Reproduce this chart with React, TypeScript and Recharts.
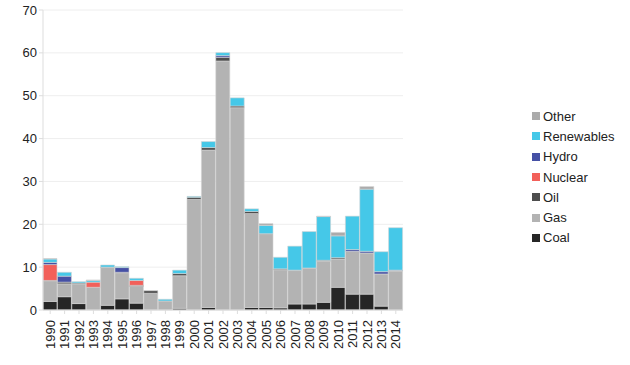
import { BarChart, Bar, XAxis, YAxis, CartesianGrid, Legend } from 'recharts';

const years = [
  '1990', '1991', '1992', '1993', '1994', '1995', '1996', '1997', '1998', '1999',
  '2000', '2001', '2002', '2003', '2004', '2005', '2006', '2007', '2008', '2009',
  '2010', '2011', '2012', '2013', '2014',
];

const coal = [2.0, 3.1, 1.5, 0, 1.1, 2.6, 1.6, 0, 0, 0.4, 0, 0.6, 0, 0, 0.6, 0.6, 0.5, 1.4, 1.4, 1.8, 5.3, 3.7, 3.7, 0.9, 0];
const gas = [4.7, 3.0, 4.6, 5.3, 8.8, 6.1, 3.9, 3.9, 2.1, 7.6, 25.8, 36.7, 58.1, 47.2, 21.9, 17.0, 8.9, 7.8, 8.3, 9.6, 6.6, 10.0, 9.6, 7.5, 9.1];
const oil = [0.2, 0.4, 0.2, 0, 0.1, 0.1, 0.25, 0.6, 0, 0.5, 0.5, 0.6, 0.85, 0.4, 0.5, 0.2, 0.2, 0.1, 0.1, 0.2, 0.3, 0, 0, 0, 0.1];
const nuclear = [3.7, 0, 0, 1.2, 0, 0, 1.15, 0, 0, 0, 0, 0, 0, 0, 0, 0, 0, 0, 0, 0, 0, 0, 0, 0, 0];
const hydro = [0.5, 1.4, 0, 0, 0, 1.1, 0, 0, 0, 0, 0, 0, 0.4, 0, 0, 0, 0, 0, 0, 0, 0, 0.4, 0.4, 0.55, 0.1];
const renewables = [0.8, 0.9, 0.3, 0.4, 0.5, 0.2, 0.5, 0, 0.4, 0.8, 0.2, 1.4, 0.7, 1.9, 0.6, 1.95, 2.7, 5.6, 8.5, 10.2, 5.1, 7.8, 14.5, 4.65, 9.9];
const other = [0.1, 0, 0, 0.1, 0, 0, 0, 0, 0, 0, 0, 0, 0, 0, 0, 0.4, 0, 0, 0, 0.1, 0.8, 0, 0.6, 0, 0];

const yTicks = [0, 10, 20, 30, 40, 50, 60, 70];

const SERIES = [
  { key: 'Coal', color: '#262626' },
  { key: 'Gas', color: '#b3b3b3' },
  { key: 'Oil', color: '#4d4d4d' },
  { key: 'Nuclear', color: '#f2605a' },
  { key: 'Hydro', color: '#4550a5' },
  { key: 'Renewables', color: '#45c8e8' },
  { key: 'Other', color: '#ababab' },
];

const data = years.map((year, i) => ({
  year,
  Coal: coal[i],
  Gas: gas[i],
  Oil: oil[i],
  Nuclear: nuclear[i],
  Hydro: hydro[i],
  Renewables: renewables[i],
  Other: other[i],
}));

const font = '"Liberation Sans", Arial, sans-serif';

function LegendBox() {
  return (
    <div style={{ fontFamily: font, fontSize: 13, color: '#222' }}>
      {[...SERIES].reverse().map((s) => (
        <div key={s.key} style={{ display: 'flex', alignItems: 'center', height: 20.3 }}>
          <span style={{ width: 8, height: 8, background: s.color, marginRight: 3, display: 'inline-block' }} />
          {s.key}
        </div>
      ))}
    </div>
  );
}

function YearTick({ x, y, payload }: any) {
  return (
    <text
      x={x}
      y={y + 4}
      transform={`rotate(-90 ${x} ${y + 4})`}
      textAnchor="end"
      dominantBaseline="central"
      fontSize={13}
      fontFamily={font}
      fill="#222"
    >
      {payload.value}
    </text>
  );
}

export default function App() {
  return (
    <div style={{ position: 'absolute', left: 0, top: 0, width: 630, height: 365, background: '#fff' }}>
      <BarChart
        width={630}
        height={365}
        data={data}
        margin={{ top: 10, right: 127, bottom: 10, left: 0 }}
        barCategoryGap={0}
      >
        <CartesianGrid vertical={false} stroke="#eeeeee" />
        <XAxis
          dataKey="year"
          height={45}
          interval={0}
          tick={<YearTick />}
          axisLine={{ stroke: '#dddddd' }}
          tickLine={{ stroke: '#dddddd' }}
          tickSize={4}
        />
        <YAxis
          width={43}
          domain={[0, 70]}
          ticks={yTicks}
          tick={{ fontSize: 13, fontFamily: font, fill: '#222' }}
          axisLine={{ stroke: '#dddddd' }}
          tickLine={{ stroke: '#dddddd' }}
          tickSize={4}
        />
        <Legend
          layout="vertical"
          align="right"
          verticalAlign="top"
          content={() => <LegendBox />}
          wrapperStyle={{ left: 532, top: 106, width: 100 }}
        />
        {SERIES.map((s) => (
          <Bar
            key={s.key}
            dataKey={s.key}
            stackId="a"
            fill={s.color}
            stroke="#d4d4d4"
            strokeWidth={0.6}
            isAnimationActive={false}
          />
        ))}
      </BarChart>
    </div>
  );
}
